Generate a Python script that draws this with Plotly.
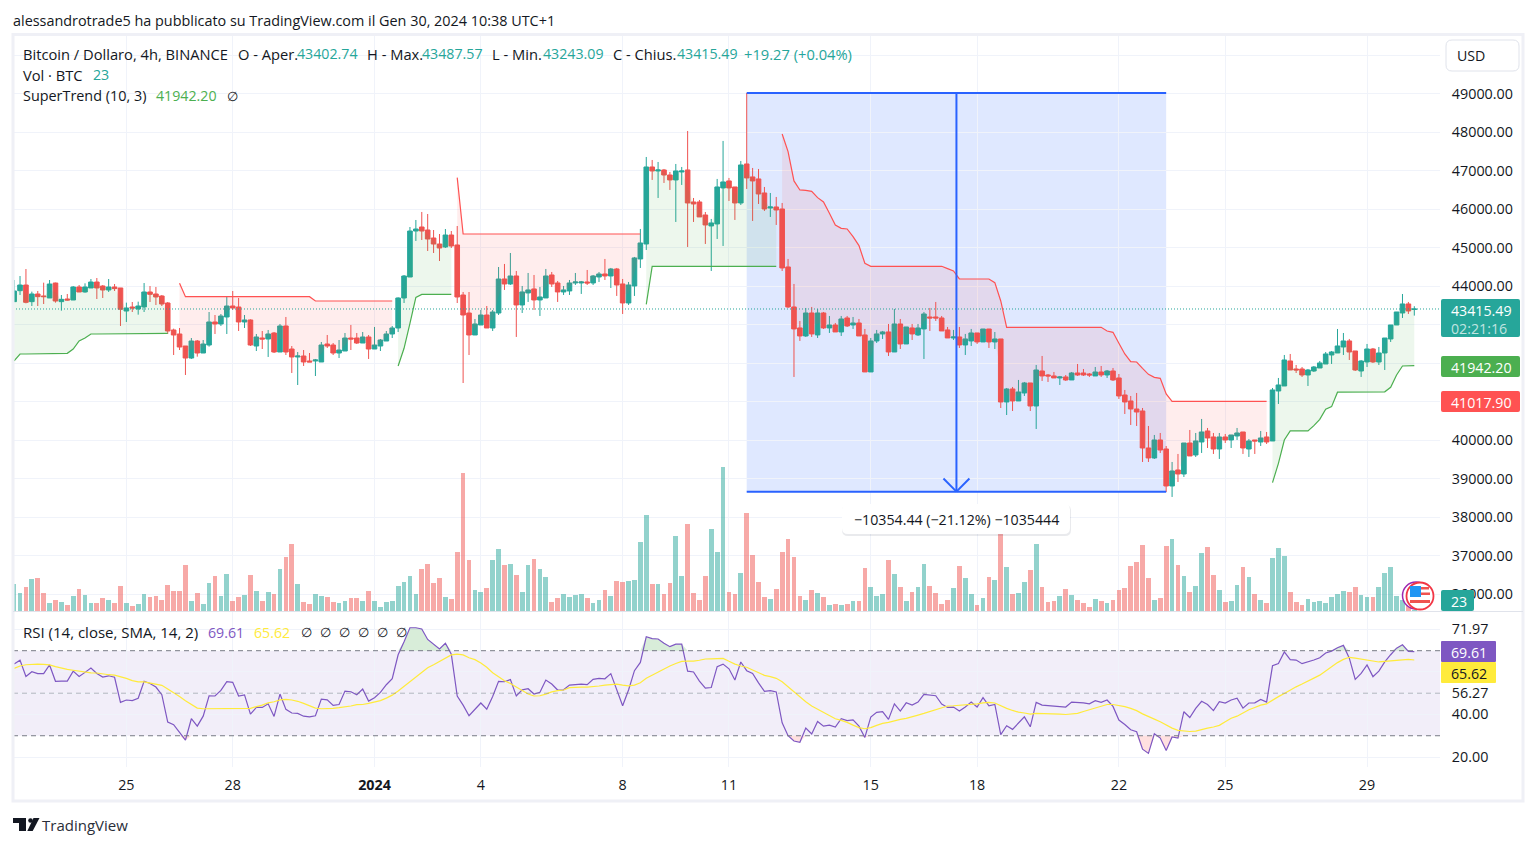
import numpy as np
import pandas as pd
import plotly.graph_objects as go

W, H = 1536, 846

# 4h candles, first one Dec 21 20:00
dates = pd.date_range("2023-12-21 20:00", periods=238, freq="4h")

opens = [43606,43891,44038,43606,43805,43753,43701,44090,43606,43675,43649,43987,43857,43961,44116,44012,43909,43987,43961,43363,
         43467,43415,43467,43857,43805,43753,43571,42870,42766,42454,42142,42584,42272,42480,43078,43026,43208,43493,43467,43078,
         43130,42454,42662,42636,42792,42298,42974,42376,42169,42194,42065,42065,42039,42506,42480,42272,42324,42662,42662,42532,
         42688,42376,42454,42584,42766,42922,43701,44246,45441,45545,45467,45259,45103,45026,45337,45078,43779,43311,42740,43000,
         43259,42922,43311,44195,44065,44273,43520,43832,43936,43650,43702,44299,44091,43858,43884,44091,44091,44117,44091,44247,
         44325,44273,44455,44065,43572,44013,44715,45104,47104,47000,47026,46896,46767,46974,47026,46195,46195,45857,45572,45624,
         46559,46741,46585,46169,47182,46845,46793,46429,46039,46065,46013,44507,43468,42923,42715,43312,42741,43312,42923,43000,
         42819,43182,43000,43052,42741,41780,42585,42767,42819,42299,43026,42507,42923,42741,42897,43208,43208,43182,42871,42663,
         42689,42481,42585,42793,42559,42896,42559,42637,41000,41338,41026,41234,41494,40896,41805,41701,41676,41624,41650,41572,
         41753,41753,41727,41676,41779,41701,41805,41624,41182,41026,40818,40766,39805,39546,40013,39779,38818,39234,39130,39935,
         39624,39961,40247,40091,39779,40091,40013,40117,40221,39779,40013,39961,40091,39987,41286,41416,42065,41857,41857,41701,
         41805,41883,41987,42221,42273,42429,42585,42325,41805,42039,42377,42039,42273,42637,43000,43312,43546,43402.74]
highs = [44168,44272,44454,43866,43883,44099,44168,44099,43779,43805,44012,44038,44082,44194,44220,44038,44194,44064,43961,43580,
         43597,43606,44090,44012,43987,43779,43597,42905,42922,42454,42662,42610,42610,43337,43259,43285,43736,43883,43701,43259,
         43147,42766,42844,42870,42818,43026,43208,42454,42298,42350,42272,42117,42558,42740,42532,42610,42792,43000,42792,42818,
         42740,42948,42636,42844,42974,43718,44298,45545,45727,45935,45883,45467,45363,45493,45441,45571,43857,43857,43156,43389,
         43493,43389,44506,44585,44870,44403,44013,44351,44299,43987,44455,44377,44143,44013,44169,44351,44143,44429,44299,44377,
         44715,44481,44481,44195,44117,44767,45494,47364,47286,47234,47052,46974,47182,47104,48039,46299,46247,45935,45754,46793,
         47780,46819,46585,47260,49026,47078,47052,46585,46429,46325,46169,44715,44065,43104,43442,43468,43416,43338,43234,43052,
         43234,43234,43208,43156,42897,42663,42871,42845,43026,43416,43156,42948,43026,43026,43338,43442,43598,43234,42948,42871,
         42948,42767,42897,42793,42896,42896,42818,42637,41364,41390,41572,41520,41494,41961,42195,41727,41779,41676,41701,41779,
         41987,41857,41753,41909,41935,41831,41883,41727,41312,41156,41234,40844,40377,40143,40195,39857,39442,39650,39935,40273,
         40195,40559,40325,40195,40195,40169,40143,40325,40221,40039,40013,40247,40221,41364,41624,42221,42247,41961,41909,41857,
         41935,42065,42299,42325,42896,42792,42637,42325,42091,42507,42403,42429,42662,43000,43338,43805,43598,43487.57]
lows = [43606,43779,43562,43493,43493,43545,43701,43580,43372,43632,43649,43857,43840,43961,43675,43701,43857,43883,42974,43078,
        43337,43268,43337,43597,43519,43493,42766,42220,42350,41701,42117,42177,42272,42437,42766,42974,42766,43389,42844,42922,
        42454,42324,42376,42169,42272,42298,42220,41753,41441,41935,42039,41675,42039,42402,42220,42142,42324,42350,42506,42532,
        42117,42376,42324,42584,42662,42818,43571,44246,45182,45208,44922,44870,44662,45000,45000,43571,41493,42220,42740,43000,
        42922,42844,43259,43910,44039,42689,43312,43598,43390,43234,43702,43987,43598,43780,43780,44039,43806,44039,44039,44117,
        44169,43961,43754,43286,43520,43754,44481,44948,46767,46299,46689,46507,45676,46637,45026,45676,45806,45104,44403,45234,
        45052,46221,45728,46117,46533,45702,46143,45961,45806,45598,44403,43442,41650,42585,42689,42689,42663,42897,42793,42819,
        42715,42948,42897,42715,41780,41780,42533,42637,42195,42299,42377,42507,42611,42715,42117,42845,43104,42845,42663,42611,
        42403,42221,42455,42507,42559,42403,42377,40844,40662,40766,41026,41156,40766,40299,41546,41520,41624,41442,41546,41572,
        41676,41676,41650,41676,41650,41624,41546,41078,40688,40403,40377,39442,39442,39520,39676,38662,38533,38922,39052,39598,
        39572,39676,39805,39650,39520,39935,39805,40013,39650,39572,39650,39857,39909,39987,40948,41416,41831,41753,41650,41416,
        41779,41883,41987,41987,42273,42221,42091,41805,41650,41909,42013,41961,41831,42559,43000,43182,43286,43243.09]
closes = [43883,44038,43588,43805,43736,43736,44064,43623,43666,43649,43987,43857,43987,44116,43961,43909,43987,43944,43407,43441,
          43441,43493,43857,43796,43727,43545,42844,42740,42428,42142,42584,42272,42506,43078,43026,43233,43493,43441,43078,43130,
          42480,42688,42636,42766,42298,42974,42298,42169,42194,42039,42039,42091,42480,42454,42272,42350,42662,42636,42532,42688,
          42376,42480,42610,42766,42922,43701,44272,45441,45493,45441,45233,45103,45000,45337,45052,43727,43259,42740,43026,43259,
          42922,43337,44194,44065,44273,43520,43858,43910,43650,43728,44273,44065,43858,43910,44091,44117,44117,44091,44273,44325,
          44273,44455,44039,43572,44039,44741,45130,47104,47000,47026,46896,46767,47000,47000,46169,46143,45806,45598,45650,46585,
          46715,46559,46169,47156,46819,46741,46403,46013,46065,45987,44481,43468,42897,42715,43312,42767,43312,42923,43000,42819,
          43156,42974,43052,42715,41780,42585,42767,42819,42299,43026,42507,42948,42767,42923,43286,43182,43182,42845,42663,42689,
          42481,42637,42793,42559,42896,42559,42637,41000,41338,41026,41260,41494,40896,41831,41676,41676,41624,41650,41572,41753,
          41701,41701,41701,41779,41701,41805,41572,41156,41000,40818,40740,39805,39546,40013,39753,38818,39208,39130,39935,39598,
          39987,40221,40065,39779,40091,40013,40143,40195,39805,39987,39987,40065,39961,41312,41442,42091,41831,41831,41701,41831,
          41909,42013,42247,42299,42455,42585,42299,41831,42065,42377,42039,42273,42662,43000,43338,43546,43364,43415.49]

volumes = [8200,5500,7300,9700,10000,5500,2500,3400,2800,1900,4600,6700,4900,2500,2500,4000,3400,2500,7600,2500,
           1600,2200,5200,4300,4600,3400,7900,6100,6100,13900,3100,5500,2200,8500,10600,4600,11200,3100,4300,4900,
           10900,6100,3100,5800,5200,12700,16300,20200,8200,2800,2200,5200,4600,4300,2800,2500,3100,4000,4000,3100,
           6100,3100,1300,2800,3100,7600,8800,10600,5200,12700,14200,8500,10000,4300,3700,17800,41500,15400,6400,5800,
           7000,15400,18700,13900,14200,10900,5800,13900,15700,12700,10300,2800,4000,5200,4300,4900,5200,4000,2500,3400,
           6400,4600,9100,8800,9100,9400,20800,28900,8200,8200,5200,8500,22600,10600,26200,5500,3400,10600,24700,17800,
           43200,5800,5200,11500,29500,16900,8800,4300,3700,6700,17800,21700,16300,4600,3400,6400,5500,4300,1900,2200,
           1900,2200,3100,3100,13000,7300,4600,5200,15400,11200,7300,3100,5800,7300,14200,7600,5500,2200,3400,7000,
           13600,10000,5200,1900,4000,10300,9300,25500,13200,5100,5400,8700,12300,20100,7200,2700,3000,4500,6600,4800,
           3300,2400,1200,3600,3000,2400,3300,6300,6900,13500,14700,19800,9900,3300,3900,19500,21600,13800,10500,5700,
           7500,17400,19200,10800,6300,2700,3000,7800,13200,10200,5100,3300,2400,15900,18900,16500,5700,2700,1800,3600,
           2700,3000,2400,4200,5100,6000,5700,7200,4800,4200,4200,7200,11400,13200,4500,3300,1500,23]

rsi = [63.7,65.5,57.9,60.1,59.2,59.2,63.3,55.6,55.7,55.7,60.4,57.9,59.8,61.8,59.3,57.6,58.2,57.5,45.7,46.8,
       46.5,47.6,55.6,54.6,52.9,49.3,36.4,35.2,31.6,27.9,38.0,34.5,39.2,48.8,48.7,51.3,55.4,55.1,48.7,49.2,
       40.2,43.3,43.3,45.0,39.1,49.6,42.4,40.7,40.5,39.2,38.9,39.4,47.2,46.9,44.3,44.7,51.0,50.7,49.3,52.0,
       46.3,47.9,50.4,54.0,56.8,68.1,74.2,80.8,80.8,80.2,75.3,73.0,70.8,73.5,68.4,48.7,44.4,39.4,42.5,45.4,
       42.5,48.5,55.6,55.4,56.4,48.7,51.6,52.1,49.6,50.4,56.2,54.3,51.5,51.6,53.8,54.2,54.3,54.0,56.5,57.0,
       56.8,59.2,51.5,44.1,51.5,60.6,64.5,76.6,75.7,75.5,73.5,71.9,73.1,73.1,60.4,60.0,55.7,52.4,52.7,62.5,
       63.7,61.5,56.2,64.7,60.6,59.3,54.9,50.9,51.2,50.6,36.1,30.0,27.5,26.9,33.6,30.8,36.7,34.5,35.0,34.1,
       38.0,37.1,37.5,34.5,29.2,38.8,41.0,41.3,37.7,45.0,41.6,45.5,44.4,45.8,49.4,49.0,48.8,44.9,43.3,43.5,
       41.6,43.5,45.8,43.5,47.9,44.1,44.7,30.5,34.7,33.0,36.0,38.9,34.2,45.7,44.4,44.1,44.0,43.8,43.5,45.8,
       45.7,45.5,45.0,46.5,45.7,46.8,43.8,37.4,35.3,32.8,31.9,23.7,21.7,30.9,28.9,23.1,29.4,28.9,41.3,38.6,
       42.9,46.2,44.7,41.8,46.0,45.4,46.8,47.7,43.0,45.4,45.5,47.1,45.8,62.9,64.0,69.4,65.8,65.6,63.9,64.7,
       65.6,66.7,68.9,69.8,71.4,72.5,66.5,56.5,59.3,63.3,57.8,60.4,64.7,68.1,71.2,72.8,69.7,69.61]
rsi_sma = [61.7,62.8,63.4,63.7,63.7,63.6,63.3,62.5,61.8,61.2,60.8,60.3,59.8,59.6,59.5,59.0,58.7,58.5,57.8,57.0,
           55.9,55.3,55.3,54.8,54.3,53.7,52.0,50.4,48.4,46.5,44.7,43.0,42.7,42.7,42.9,43.0,43.0,43.0,42.9,42.7,
           42.9,43.7,44.4,45.5,46.0,46.9,47.1,46.8,46.2,45.2,44.1,43.0,42.7,42.7,42.9,43.2,43.5,44.0,44.6,44.7,
           45.2,45.7,46.5,47.7,49.1,51.0,53.2,55.4,57.8,60.1,62.0,63.4,65.0,66.5,68.0,68.4,68.0,66.7,65.8,64.2,
           62.2,59.6,57.6,55.9,54.6,53.0,51.2,49.6,48.7,48.8,49.6,50.6,51.2,51.5,52.6,52.9,52.9,52.9,53.0,53.4,
           53.8,54.2,54.3,53.8,53.5,53.8,54.9,57.0,58.5,60.0,61.5,62.8,64.0,65.0,65.1,65.1,65.5,66.1,66.2,66.2,
           66.4,65.0,63.7,62.8,62.2,60.9,59.8,58.4,57.8,57.0,55.4,53.0,50.4,48.0,46.0,44.0,42.4,41.0,39.6,38.0,
           37.2,36.3,35.0,33.8,33.3,33.8,34.9,35.8,36.3,37.1,37.7,38.2,38.8,39.7,40.5,41.3,42.1,42.9,44.0,44.1,
           44.3,44.6,44.9,45.0,45.5,45.7,45.4,44.1,42.9,41.9,41.1,40.7,40.2,40.5,40.5,40.5,40.3,40.2,40.0,40.2,
           40.5,41.4,42.2,43.3,44.0,44.7,44.7,44.3,43.7,42.9,41.8,40.3,38.9,37.8,36.6,35.0,33.6,32.5,32.2,32.0,
           32.2,33.0,33.6,34.1,34.9,36.6,38.2,39.2,40.7,42.2,43.3,44.4,45.0,46.8,48.4,49.9,51.6,53.0,54.3,55.9,
           57.1,58.5,60.6,62.5,64.4,65.9,66.9,66.5,66.1,65.6,65.0,64.7,65.0,65.3,65.6,65.9,65.9,65.62]

# SuperTrend pieces: (first candle, values)
st_up_1 = [42065,42246,42246,42250,42250,42255,42260,42264,42264,42264,42376,42584,42662,42766,42766,42766,42783,42783,42783,42783,42783,42783,42783,42783,42783,42783,42783]
st_down_1 = [44082,43736,43736,43736,43736,43736,43736,43736,43736,43736,43736,43736,43736,43736,43736,43736,43736,43736,43736,43736,43736,43736,43736,
             43623,43623,43623,43623,43623,43623,43623,43623,43623,43623,43623,43623,43623,43623]
st_up_2 = [41935,42394,43043,43718,43796,43796,43796,43796,43796,43796]
st_down_2 = [46827,45363,45363,45363,45363,45363,45363,45363,45363,45363,45363,45363,45363,45363,45363,45363,45363,45363,45363,45363,45363,45363,45363,45363,45363,45363,45363,45363,45363,45363,45363,45363]
st_up_3 = [43537,44524,44524,44524,44524,44524,44524,44524,44524,44524,44524,44524,44524,44524,44524,44524,44524,44524,44524,44524,44524,44524,44524]
st_down_3 = [47961,47503,46741,46507,46498,46472,46308,46195,45901,45598,45511,45494,45295,45061,44602,44524,44524,44524,44524,44524,44524,44524,44524,44524,44524,44524,44524,44524,
             44463,44403,44195,44195,44195,44195,44195,44195,44100,43624,42940,42940,42940,42940,42940,42940,42940,42940,42940,42940,42940,42940,42940,42940,42940,42940,42940,
             42844,42810,42524,42247,42048,42039,41875,41719,41641,41615,41208,41018,41018,41018,41018,41018,41018,41018,41018,41018,41018,41018,41018,41018,41018,41018,41018,41018]
st_up_4 = [38905,39407,40013,40247,40247,40247,40247,40385,40550,40810,40879,41255,41255,41255,41255,41255,41255,41255,41255,41265,41381,41701,41935,41942,41942,41942.2]

st_segments = [(0, st_up_1, "up"), (28, st_down_1, "down"), (65, st_up_2, "up"), (75, st_down_2, "down"),
               (107, st_up_3, "up"), (130, st_down_3, "down"), (213, st_up_4, "up")]

# 41000, 42000, 43000 sit behind the value tags, 50000 has no label
price_ticks = [36000,37000,38000,39000,40000,41000,42000,43000,44000,45000,46000,47000,48000,49000,50000]
price_labels = ["36000.00","37000.00","38000.00","39000.00","40000.00","","","","44000.00","45000.00","46000.00","47000.00","48000.00","49000.00",""]
rsi_ticks = [20, 40, 50, 60, 80]
rsi_labels = ["20.00", "40.00", "56.27", "", "71.97"]
day_ticks = ["2023-12-25", "2023-12-28", "2024-01-01", "2024-01-04", "2024-01-08", "2024-01-11", "2024-01-15", "2024-01-18", "2024-01-22", "2024-01-25", "2024-01-29"]
day_labels = ["25", "28", "<b>2024</b>", "4", "8", "11", "15", "18", "22", "25", "29"]

GREEN = "#26a69a"
RED = "#ef5350"
FONT = "Open Sans"
TEXT = "#131722"

opens_a = np.array(opens, dtype=float)
closes_a = np.array(closes, dtype=float)
rsi_a = np.array(rsi)
mid = (opens_a + closes_a) / 2
bar_ms = 4 * 3600 * 1000


def px(x):
    return x / W


def py(y):
    return 1 - y / H


def at_bar(i):
    return dates[0] + pd.Timedelta(hours=4 * i)


def box_path(x0, y0, x1, y1, r=0):
    x0, x1 = px(x0), px(x1)
    y0, y1 = py(y0), py(y1)
    rx, ry = r / W, r / H
    return (f"M{x0 + rx},{y0} L{x1 - rx},{y0} Q{x1},{y0} {x1},{y0 - ry} L{x1},{y1 + ry} Q{x1},{y1} {x1 - rx},{y1} "
            f"L{x0 + rx},{y1} Q{x0},{y1} {x0},{y1 + ry} L{x0},{y0 - ry} Q{x0},{y0} {x0 + rx},{y0} Z")


def paper_box(x0, y0, x1, y1, fill, line=None, r=0, width=1):
    return dict(type="path", xref="paper", yref="paper", path=box_path(x0, y0, x1, y1, r), fillcolor=fill,
                line=dict(color=line or fill, width=width if line else 0), layer="above")


def paper_circle(cx, cy, r, fill, line, width=1.5):
    return dict(type="circle", xref="paper", yref="paper", x0=px(cx - r), x1=px(cx + r), y0=py(cy + r), y1=py(cy - r),
                fillcolor=fill, line=dict(color=line, width=width), layer="above")


def paper_poly(points, fill):
    path = "M" + " L".join(f"{px(x)},{py(y)}" for x, y in points) + " Z"
    return dict(type="path", xref="paper", yref="paper", path=path, fillcolor=fill, line=dict(width=0), layer="above")


def label(x, y, text, size=14.2, color=TEXT, anchor="left"):
    if anchor == "left":
        x = x - 1
    return dict(xref="paper", yref="paper", x=px(x), y=py(y), text=text, showarrow=False, xanchor=anchor, yanchor="middle",
                align="left", font=dict(family=FONT, size=size, color=color), borderpad=0)


fig = go.Figure()

# volume goes on the base axis so it stays under the candles
fig.add_trace(go.Bar(x=dates, y=volumes, width=bar_ms * 0.8, xaxis="x", yaxis="y",
                     marker=dict(color=[GREEN if c >= o else RED for o, c in zip(opens, closes)], opacity=0.5, line=dict(width=0))))

for start, values, side in st_segments:
    xs = dates[start:start + len(values)]
    line_color = "#4caf50" if side == "up" else "#ff5252"
    fill_color = "rgba(76,175,80,0.1)" if side == "up" else "rgba(255,82,82,0.1)"
    fig.add_trace(go.Scatter(x=xs, y=mid[start:start + len(values)], mode="lines", line=dict(width=0), yaxis="y2"))
    fig.add_trace(go.Scatter(x=xs, y=values, mode="lines", line=dict(color=line_color, width=1.2), fill="tonexty", fillcolor=fill_color, yaxis="y2"))

fig.add_trace(go.Candlestick(x=dates, open=opens, high=highs, low=lows, close=closes, yaxis="y2", whiskerwidth=0,
                             increasing=dict(line=dict(color=GREEN, width=1), fillcolor=GREEN),
                             decreasing=dict(line=dict(color=RED, width=1), fillcolor=RED)))

# RSI pane
fig.add_trace(go.Scatter(x=dates, y=np.full(238, 70.0), mode="lines", line=dict(width=0), yaxis="y3"))
fig.add_trace(go.Scatter(x=dates, y=np.maximum(rsi_a, 70), mode="lines", line=dict(width=0), fill="tonexty", fillcolor="rgba(76,175,80,0.22)", yaxis="y3"))
fig.add_trace(go.Scatter(x=dates, y=np.full(238, 30.0), mode="lines", line=dict(width=0), yaxis="y3"))
fig.add_trace(go.Scatter(x=dates, y=np.minimum(rsi_a, 30), mode="lines", line=dict(width=0), fill="tonexty", fillcolor="rgba(255,82,82,0.18)", yaxis="y3"))
fig.add_trace(go.Scatter(x=dates, y=rsi, mode="lines", line=dict(color="#7e57c2", width=1.2), yaxis="y3"))
fig.add_trace(go.Scatter(x=dates, y=rsi_sma, mode="lines", line=dict(color="#ffeb3b", width=1.2), yaxis="y3"))

top, bottom = 49026, 38671.56
left_bar, right_bar = at_bar(124), at_bar(195)
mid_bar = at_bar(159.5)
blue = "#2962ff"
x_start, x_end = at_bar(-0.19), at_bar(241.35)

shapes = [
    # measuring tool
    dict(type="rect", xref="x", yref="y2", x0=left_bar, x1=right_bar, y0=bottom, y1=top, fillcolor="rgba(41,98,255,0.15)", line=dict(width=0), layer="below"),
    dict(type="line", xref="x", yref="y2", x0=left_bar, x1=right_bar, y0=top, y1=top, line=dict(color=blue, width=2), layer="above"),
    dict(type="line", xref="x", yref="y2", x0=left_bar, x1=right_bar, y0=bottom, y1=bottom, line=dict(color=blue, width=2), layer="above"),
    dict(type="line", xref="x", yref="y2", x0=mid_bar, x1=mid_bar, y0=top, y1=bottom, line=dict(color=blue, width=2), layer="above"),
    dict(type="line", xref="x", yref="y2", x0=at_bar(157.3), x1=mid_bar, y0=bottom + 340, y1=bottom, line=dict(color=blue, width=2), layer="above"),
    dict(type="line", xref="x", yref="y2", x0=at_bar(161.7), x1=mid_bar, y0=bottom + 340, y1=bottom, line=dict(color=blue, width=2), layer="above"),
    # last price
    dict(type="line", xref="x", yref="y2", x0=x_start, x1=x_end, y0=closes[-1], y1=closes[-1], line=dict(color=GREEN, width=1, dash="1px,2px"), layer="above"),
    # RSI band and levels
    dict(type="rect", xref="x", yref="y3", x0=x_start, x1=x_end, y0=30, y1=70, fillcolor="rgba(126,87,194,0.1)", line=dict(width=0), layer="below"),
    dict(type="line", xref="x", yref="y3", x0=x_start, x1=x_end, y0=70, y1=70, line=dict(color="#787b86", width=1, dash="5px,4px"), layer="above"),
    dict(type="line", xref="x", yref="y3", x0=x_start, x1=x_end, y0=50, y1=50, line=dict(color="rgba(120,123,134,0.5)", width=1, dash="5px,4px"), layer="above"),
    dict(type="line", xref="x", yref="y3", x0=x_start, x1=x_end, y0=30, y1=30, line=dict(color="#787b86", width=1, dash="5px,4px"), layer="above"),
    # frame and pane separator
    dict(type="rect", xref="paper", yref="paper", x0=px(13), x1=px(1523), y0=py(801), y1=py(34.5), line=dict(color="#eff0f6", width=3), layer="above"),
    dict(type="line", xref="paper", yref="paper", x0=px(13), x1=px(1523), y0=py(611.5), y1=py(611.5), line=dict(color="#e0e3eb", width=1), layer="above"),
    # value tags
    paper_box(1441, 299, 1520, 337, GREEN, r=2),
    paper_box(1441, 356, 1520, 377, "#4caf50", r=2),
    paper_box(1441, 391, 1520, 412, "#ff5252", r=2),
    paper_box(1441, 590, 1474, 611, GREEN, r=2),
    paper_box(1441, 641, 1496, 662, "#7e57c2", r=1),
    paper_box(1441, 662, 1496, 683, "#ffeb3b", r=1),
    paper_box(1446, 40, 1519, 71, "#ffffff", line="#e0e3eb", r=6),
    # range label
    paper_box(842, 505, 1071, 536, "rgba(40,50,80,0.10)", r=6),
    paper_box(842, 504, 1070, 534, "#ffffff", r=6),
    # flag badge
    paper_circle(1416, 595.5, 13.5, "#ffffff", "#9c27b0"),
    paper_circle(1420, 596, 13.5, "#ffffff", "#f23645", 1.8),
    paper_box(1421, 587, 1429, 589.5, "#ef5350"),
    paper_box(1421, 592.5, 1430, 595, "#ef5350"),
    paper_box(1410, 600, 1430, 603, "#ef5350"),
    paper_box(1410, 586, 1421, 597, "#2196f3"),
    # TradingView mark
    paper_poly([(13, 818), (26, 818), (26, 831), (19, 831), (19, 823), (13, 823)], "#131722"),
    paper_circle(30.5, 820.5, 2.3, "#131722", "#131722", 0),
    paper_poly([(33.5, 818), (39.5, 818), (32.7, 831), (27.3, 831)], "#131722"),
]

NUM = 14.2
WORD = 14.7
up_green = "#4caf50"
annotations = [
    label(13, 20, "alessandrotrade5 ha pubblicato su TradingView.com il Gen 30, 2024 10:38 UTC+1", size=14.4),
    label(23, 54, "Bitcoin / Dollaro, 4h, BINANCE", size=WORD),
    label(237.5, 54, "O - Aper.", size=WORD),
    label(296.5, 54, "43402.74", size=NUM, color=GREEN),
    label(366.5, 54, "H - Max.", size=WORD),
    label(422, 54, "43487.57", size=NUM, color=GREEN),
    label(492, 54, "L - Min.", size=WORD),
    label(543, 54, "43243.09", size=NUM, color=GREEN),
    label(613, 54, "C - Chius.", size=WORD),
    label(677, 54, "43415.49", size=NUM, color=GREEN),
    label(744, 54, "+19.27 (+0.04%)", size=14.7, color=GREEN),
    label(23, 75, "Vol · BTC", size=WORD),
    label(93, 75, "23", size=NUM, color=GREEN),
    label(23, 96, "SuperTrend (10, 3)", size=14.4),
    label(156, 96, "41942.20", size=NUM, color=up_green),
    label(227, 96, "∅", size=13),
    label(23, 632, "RSI (14, close, SMA, 14, 2)", size=15),
    label(208, 632, "69.61", size=NUM, color="#7e57c2"),
    label(254, 632, "65.62", size=NUM, color="#ffeb3b"),
    label(301, 632, "∅", size=13),
    label(320, 632, "∅", size=13),
    label(339, 632, "∅", size=13),
    label(358, 632, "∅", size=13),
    label(377, 632, "∅", size=13),
    label(396, 632, "∅", size=13),
    label(1457, 55, "USD"),
    label(956, 519, "−10354.44 (−21.12%) −1035444", anchor="center"),
    label(1451, 310, "43415.49", color="#ffffff"),
    label(1451, 328, "02:21:16", color="rgba(255,255,255,0.72)"),
    label(1451, 367, "41942.20", color="#ffffff"),
    label(1451, 402, "41017.90", color="#ffffff"),
    label(1451, 601, "23", color="#ffffff"),
    label(1451, 652, "69.61", color="#ffffff"),
    label(1451, 673, "65.62", color=TEXT),
    label(42, 825, "TradingView", size=15, color="#2a2e39"),
]

grid = "#f0f3fa"
tick_font = dict(family=FONT, size=14.3, color=TEXT)
fig.update_layout(
    width=W, height=H,
    margin=dict(l=0, r=0, t=0, b=0),
    paper_bgcolor="white", plot_bgcolor="white",
    showlegend=False,
    bargap=0,
    boxgap=0.22, boxgroupgap=0,
    shapes=shapes,
    annotations=annotations,
    font=dict(family=FONT, size=14, color=TEXT),
    xaxis=dict(domain=[px(13), px(1440)], anchor="y3", range=[x_start, x_end], rangeslider=dict(visible=False),
               tickmode="array", tickvals=day_ticks, ticktext=day_labels, showgrid=True, gridcolor=grid, gridwidth=1, tickfont=tick_font,
               ticks="outside", ticklen=5, tickcolor="white", zeroline=False, showline=False),
    yaxis=dict(domain=[py(611), py(35)], anchor="x", range=[0, 172800], visible=False, showgrid=False, zeroline=False),
    yaxis2=dict(overlaying="y", anchor="x", side="right", range=[35571, 50532], tickmode="array", tickvals=price_ticks, ticktext=price_labels, tickfont=tick_font,
                showgrid=True, gridcolor=grid, gridwidth=1, ticks="outside", ticklen=8, tickcolor="white", zeroline=False, showline=False),
    yaxis3=dict(domain=[py(767), py(612)], anchor="x", side="right", range=[15.3, 88.2], tickmode="array", tickvals=rsi_ticks, ticktext=rsi_labels, tickfont=tick_font,
                showgrid=True, gridcolor=grid, gridwidth=1, ticks="outside", ticklen=8, tickcolor="white", zeroline=False, showline=False),
)

fig.write_html("out.html", config={"displayModeBar": False},
               post_script="document.body.style.margin='0';document.body.style.overflow='hidden';")
